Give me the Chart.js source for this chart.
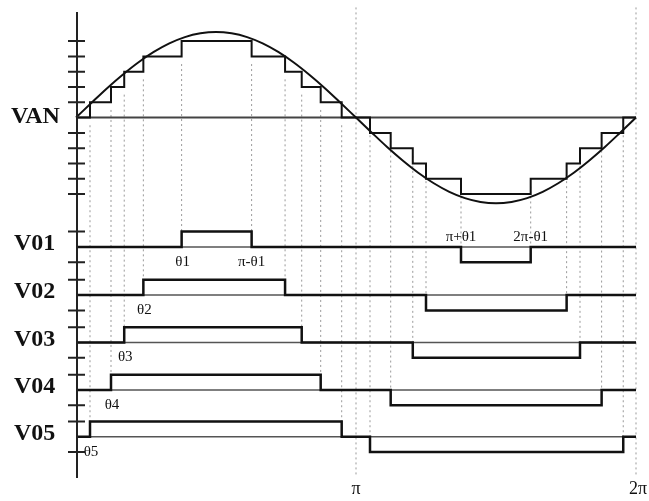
<!DOCTYPE html>
<html>
<head>
<meta charset="utf-8">
<script src="https://cdn.jsdelivr.net/npm/chart.js@4"></script>
<style>
  html, body { margin: 0; padding: 0; background: #fff; }
  canvas { display: block; }
</style>
</head>
<body>
<canvas id="myChart" width="649" height="501"></canvas>
<script>
(() => {
  'use strict'

  // rows of the switching diagram, top to bottom
  const rowNames = ['V01', 'V02', 'V03', 'V04', 'V05'];
  const rowBase = [-8.45, -11.6, -14.7, -17.8, -20.85];

  // switching angles (degrees)
  const posOn = [67.9, 43.3, 31.0, 22.5, 9.0];
  const posOff = [112.9, 134.4, 145.1, 157.3, 170.8];
  const negOn = [247.5, 225.0, 216.5, 202.3, 189.0];
  const negOff = [292.3, 315.4, 324.0, 337.9, 351.8];

  // reference sine of VAN, read every 10 degrees (in step units)
  const sineDeg = [0, 10, 20, 30, 40, 50, 60, 70, 80, 90, 100, 110, 120, 130, 140, 150, 160, 170, 180,
    190, 200, 210, 220, 230, 240, 250, 260, 270, 280, 290, 300, 310, 320, 330, 340, 350, 360];
  const sineVal = [0, 0.97, 1.92, 2.80, 3.60, 4.29, 4.85, 5.26, 5.51, 5.60, 5.51, 5.26, 4.85, 4.29, 3.60, 2.80, 1.92, 0.97, 0,
    -0.97, -1.92, -2.80, -3.60, -4.29, -4.85, -5.26, -5.51, -5.60, -5.51, -5.26, -4.85, -4.29, -3.60, -2.80, -1.92, -0.97, 0];

  // tick marks on the vertical axis
  const vanTicks = [5, 4, 3, 2, 1, -1, -2, -3, -4, -5];

  // x tick labels
  const xTickVals = [180, 360];
  const xTickLabels = ['π', '2π'];

  // labels for the edges
  const thetaLabels = ['θ1', 'θ2', 'θ3', 'θ4', 'θ5'];
  const v01EdgeLabels = ['π-θ1', 'π+θ1', '2π-θ1'];

  // build pulse trace of one row
  function pulsePoints(i) {
    const b = rowBase[i];
    return [
      {x: 0, y: b},
      {x: posOn[i], y: b}, {x: posOn[i], y: b + 1},
      {x: posOff[i], y: b + 1}, {x: posOff[i], y: b},
      {x: negOn[i], y: b}, {x: negOn[i], y: b - 1},
      {x: negOff[i], y: b - 1}, {x: negOff[i], y: b},
      {x: 360, y: b}
    ];
  }

  // VAN staircase = sum of the five pulses
  const events = [];
  rowNames.forEach((n, i) => {
    events.push([posOn[i], 1], [posOff[i], -1], [negOn[i], -1], [negOff[i], 1]);
  });
  events.sort((a, b) => a[0] - b[0]);
  const stairPts = [{x: 0, y: 0}];
  let level = 0;
  events.forEach(([a, d]) => {
    stairPts.push({x: a, y: level});
    level += d;
    stairPts.push({x: a, y: level});
  });
  stairPts.push({x: 360, y: level});

  // dotted guide lines from the staircase down to each row
  const guidePts = [];
  rowNames.forEach((n, i) => {
    const lv = 4 - i;
    [posOn[i], posOff[i]].forEach(a => {
      guidePts.push({x: a, y: lv - 0.5}, {x: a, y: rowBase[i] + 1}, {x: a, y: null});
    });
    [negOn[i], negOff[i]].forEach(a => {
      guidePts.push({x: a, y: -lv - 0.5}, {x: a, y: rowBase[i]}, {x: a, y: null});
    });
  });
  xTickVals.forEach(a => {
    guidePts.push({x: a, y: 7.2}, {x: a, y: -23.5}, {x: a, y: null});
  });

  const sinePts = sineDeg.map((d, k) => ({x: d, y: sineVal[k]}));

  const base = {showLine: true, pointRadius: 0, fill: false, clip: false};
  const datasets = [];
  rowNames.forEach((n, i) => {
    datasets.push(Object.assign({}, base, {
      data: pulsePoints(i), borderColor: '#111', borderWidth: 2.5
    }));
  });
  datasets.push(Object.assign({}, base, {data: stairPts, borderColor: '#111', borderWidth: 2}));
  datasets.push(Object.assign({}, base, {
    data: sinePts, borderColor: '#111', borderWidth: 2, cubicInterpolationMode: 'monotone'
  }));
  datasets.push(Object.assign({}, base, {
    data: [{x: 0, y: 0}, {x: 360, y: 0}], borderColor: '#444', borderWidth: 2
  }));
  rowBase.forEach(b => {
    datasets.push(Object.assign({}, base, {
      data: [{x: 0, y: b}, {x: 360, y: b}], borderColor: '#555', borderWidth: 1.5
    }));
  });
  datasets.push(Object.assign({}, base, {
    data: guidePts, borderColor: '#999', borderWidth: 1, borderDash: [2, 3], spanGaps: false
  }));

  // axis line, ticks and text
  const marks = {
    id: 'marks',
    afterDatasetsDraw(chart) {
      const {ctx, chartArea} = chart;
      const xs = chart.scales.x, ys = chart.scales.y;
      const x0 = xs.getPixelForValue(0) + 1;
      ctx.save();
      ctx.strokeStyle = '#222';
      ctx.lineWidth = 2;
      ctx.beginPath();
      ctx.moveTo(x0, chartArea.top);
      ctx.lineTo(x0, chartArea.bottom);
      const ticks = vanTicks.slice();
      rowBase.forEach(b => ticks.push(b + 1, b - 1));
      ticks.forEach(v => {
        const py = ys.getPixelForValue(v);
        ctx.moveTo(x0 - 9, py);
        ctx.lineTo(x0 + 8, py);
      });
      ctx.stroke();

      ctx.fillStyle = '#111';
      ctx.textBaseline = 'middle';
      ctx.textAlign = 'left';
      ctx.font = 'bold 24px "Liberation Serif"';
      ctx.fillText('VAN', 11, ys.getPixelForValue(0) - 1);
      rowNames.forEach((n, i) => {
        ctx.fillText(n, 14, ys.getPixelForValue(rowBase[i]) - 3);
      });

      ctx.textAlign = 'center';
      ctx.font = '15px "Liberation Serif"';
      thetaLabels.forEach((t, i) => {
        ctx.fillText(t, xs.getPixelForValue(posOn[i]) + 1, ys.getPixelForValue(rowBase[i]) + 15);
      });
      const b0 = ys.getPixelForValue(rowBase[0]);
      ctx.fillText(v01EdgeLabels[0], xs.getPixelForValue(posOff[0]), b0 + 15);
      ctx.fillText(v01EdgeLabels[1], xs.getPixelForValue(negOn[0]), b0 - 10);
      ctx.fillText(v01EdgeLabels[2], xs.getPixelForValue(negOff[0]), b0 - 10);

      ctx.font = '18px "Liberation Serif"';
      xTickVals.forEach((v, k) => {
        ctx.fillText(xTickLabels[k], xs.getPixelForValue(v) + (k ? 2 : 0), 489);
      });
      ctx.restore();
    }
  };

  const ctx = document.getElementById('myChart');
  new Chart(ctx, {
    type: 'scatter',
    data: {datasets: datasets},
    options: {
      responsive: false,
      animation: false,
      layout: {padding: {left: 76, right: 13, top: 12, bottom: 23}},
      scales: {
        x: {type: 'linear', min: 0, max: 360, display: false},
        y: {type: 'linear', min: -23.55, max: 6.9, display: false}
      },
      plugins: {
        legend: {display: false},
        tooltip: {enabled: false}
      }
    },
    plugins: [marks]
  });
})();
</script>
</body>
</html>
